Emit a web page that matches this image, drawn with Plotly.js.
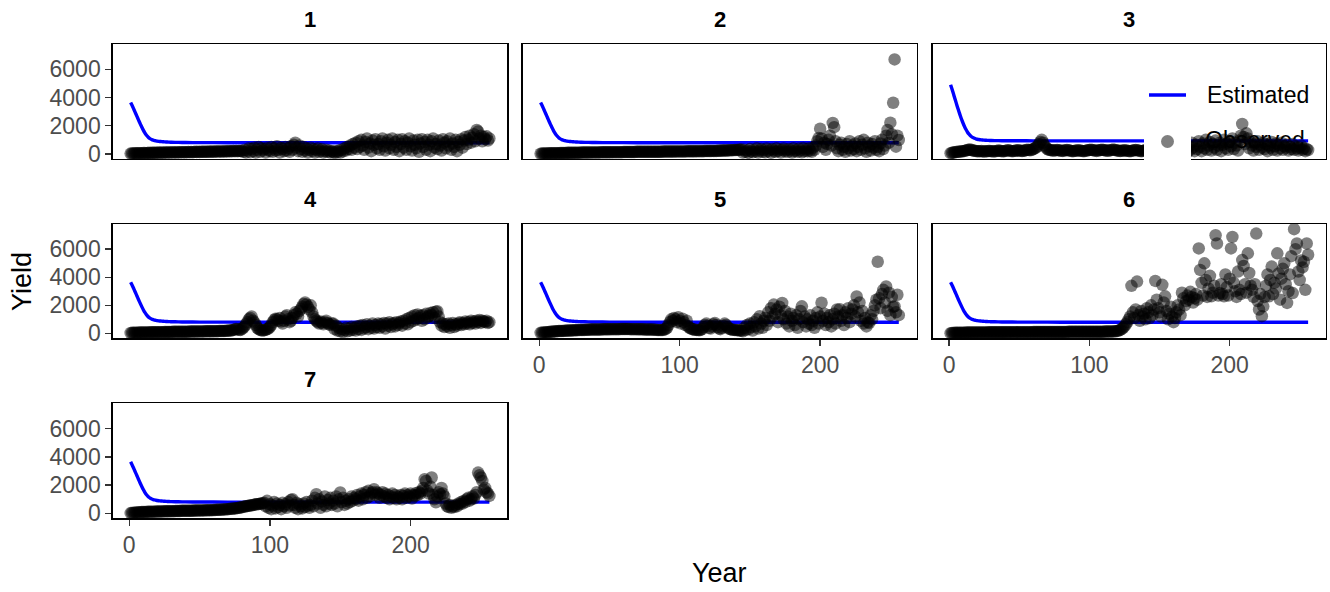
<!DOCTYPE html>
<html>
<head>
<meta charset="utf-8">
<script src="https://cdn.plot.ly/plotly-3.0.1.min.js"></script>
<style>html,body{margin:0;padding:0;background:#fff;}#chart{width:1330px;height:592px;}</style>
</head>
<body>
<div id="chart"></div>
<script>
// ---------------- DATA ----------------
const panelLabels = ["1", "2", "3", "4", "5", "6", "7"];
const seriesNames = ["Estimated", "Observed"];
const xTickVals = [0, 100, 200];
const yTickVals = [0, 2000, 4000, 6000];

// Years of the estimated curve (where it was read)
const estYears = [1,2,3,4,5,6,7,8,9,10,11,12,13,14,15,16,17,18,19,20,21,22,23,24,25,26,27,28,29,30,35,40,50,60,80,100,150,200,256];
// Estimated yield, panels 1,2,4,5,6,7
const estMain = [3650,3450,3230,3000,2780,2550,2320,2100,1890,1690,1510,1360,1240,1140,1070,1020,980,950,930,910,895,885,875,866,858,851,845,840,836,832,820,812,805,802,800,800,800,800,800];
// Estimated yield, panel 3
const estP3 = [4900,4600,4280,3950,3620,3300,2990,2690,2410,2160,1930,1730,1560,1420,1310,1220,1160,1110,1070,1045,1025,1010,998,988,980,973,967,962,958,955,945,940,935,932,930,930,930,930,930];

// Observed yield, years 1..256
const obs1 = [
30,40,40,50,50,50,60,60,60,70,70,60,70,80,70,80,
80,90,80,90,100,90,100,90,100,110,100,110,100,110,120,110,
110,120,110,120,130,120,130,120,130,140,130,140,130,140,150,140,
150,140,150,160,150,160,150,160,170,160,170,160,170,180,170,180,
180,170,180,190,180,190,200,190,200,210,200,210,200,220,210,220,
150,300,100,250,400,120,350,200,450,100,300,500,150,400,250,350,
100,450,300,200,500,150,400,250,550,300,100,450,350,200,500,250,
400,150,550,300,650,800,450,200,600,350,150,500,250,400,100,300,
450,200,350,100,300,400,150,250,350,100,200,300,150,250,100,200,
150,80,200,120,250,100,300,180,400,250,500,350,600,300,700,450,
800,350,900,500,1000,600,300,850,1100,450,750,200,950,650,1050,400,
700,300,900,1100,550,250,800,1000,400,650,1100,300,850,500,1000,200,
700,1050,450,900,300,800,1100,550,250,950,650,400,1000,150,750,1050,
500,850,300,1000,650,200,900,1100,450,700,350,950,600,250,1050,800,
400,900,600,1100,300,750,500,1000,200,850,650,1050,450,950,1200,700,
1000,1300,800,1150,1400,900,1700,1600,1100,1300,900,1200,1050,1250,950,1100];

const obs2 = [
20,30,30,40,40,40,50,50,50,50,60,60,60,60,70,70,
70,70,70,80,80,80,80,80,90,90,90,90,90,100,100,100,
100,100,100,100,110,110,110,110,110,110,110,120,120,120,120,120,
120,120,120,130,130,130,130,130,130,130,130,140,140,140,140,140,
140,140,140,140,150,150,150,150,150,150,150,150,150,150,160,160,
160,160,160,160,160,160,160,170,170,170,170,170,170,170,170,170,
180,180,180,180,180,180,180,180,190,190,190,190,190,190,190,200,
200,200,200,200,200,210,210,210,210,210,220,220,220,220,230,230,
230,240,240,240,250,250,260,260,270,270,280,280,290,300,300,310,
100,300,150,250,80,350,200,120,300,180,400,100,250,350,150,280,
120,380,200,300,90,350,250,150,400,200,320,100,280,380,180,300,
150,350,250,100,400,200,300,150,380,250,120,420,200,330,180,400,
250,150,450,300,600,900,1140,1790,1100,500,800,300,700,1000,1300,600,
2200,1900,900,400,200,650,800,300,500,150,700,400,900,250,600,350,
750,200,500,900,300,650,1000,400,150,800,550,250,700,450,900,300,
500,200,750,1000,350,600,1300,1700,800,2220,1400,3630,6700,520,1300,990];

const obs3 = [
60,80,100,120,140,160,150,170,190,200,220,250,280,300,320,280,
250,230,210,200,190,200,210,180,170,190,200,210,220,200,190,180,
200,220,240,230,210,190,200,220,240,260,240,220,200,210,230,250,
270,250,230,210,230,250,280,300,280,260,300,350,400,450,550,700,
850,1000,800,600,450,350,300,280,260,240,250,270,290,270,250,230,
220,240,260,280,260,240,220,200,210,230,250,270,250,230,210,200,
220,240,260,280,300,280,260,240,220,240,260,280,300,280,260,240,
230,250,270,290,310,290,270,250,230,210,230,250,270,250,230,210,
200,220,240,260,280,260,240,220,200,220,240,260,280,300,280,260,
240,260,280,300,320,300,280,260,280,300,320,340,360,340,320,300,
200,450,150,600,300,500,250,700,400,150,550,300,800,450,200,650,
350,900,500,200,750,400,1000,300,600,850,250,700,450,950,300,600,
800,200,650,1000,400,750,300,900,550,1100,350,800,600,250,950,1300,
2130,1200,700,1460,1100,400,850,600,250,750,500,900,300,650,450,800,
350,700,200,600,450,850,300,550,750,250,650,400,800,300,550,450,
650,250,500,350,700,300,550,400,250,450,600,300,400,200,350,280];

const obs4 = [
30,40,40,50,50,50,60,60,60,60,70,70,70,70,80,80,
80,80,80,90,90,90,90,90,100,100,100,100,100,100,110,110,
110,110,110,110,120,120,120,120,120,120,130,130,130,130,130,130,
140,140,140,140,140,150,150,150,150,150,150,160,160,160,160,170,
170,170,180,180,190,190,200,210,220,250,280,320,300,260,240,300,
400,500,650,800,1000,1100,1200,900,780,600,400,300,250,220,200,230,
260,300,350,450,600,800,950,1050,1000,900,1100,850,700,900,1200,1300,
1000,800,900,1100,1300,1500,1400,1200,1600,1750,1900,2100,2200,2050,1900,1700,
2000,1500,1200,1000,900,800,700,850,750,650,800,900,750,650,600,700,
700,300,550,200,400,150,300,100,250,400,150,350,200,450,250,400,
200,500,300,550,250,600,350,450,650,300,550,400,700,350,600,450,
700,400,650,500,750,350,700,550,800,450,650,750,500,800,600,750,
850,550,900,700,1000,650,1100,800,1200,900,1300,1000,1350,1100,1250,900,
1300,1000,1400,1150,1250,1450,1300,1500,1100,1550,1580,1200,800,550,700,450,
650,500,700,400,600,750,450,650,550,700,800,600,750,650,850,700,
800,650,900,750,850,700,900,800,950,750,900,850,800,900,750,800];

const obs5 = [
40,50,60,70,80,90,100,110,120,130,140,150,160,170,170,180,
180,190,190,200,200,210,210,220,220,230,230,240,240,250,250,250,
260,260,260,270,270,270,270,280,280,280,280,280,290,290,290,290,
290,290,300,300,300,300,300,300,300,310,310,310,310,310,310,310,
300,300,300,300,300,290,290,290,290,290,280,280,280,280,270,270,
270,260,260,250,250,240,240,250,270,300,400,600,800,1000,900,1100,
1000,800,1150,900,700,1050,800,600,900,500,400,350,300,280,260,250,
240,230,250,300,450,600,700,550,400,350,500,650,750,600,450,350,
300,400,550,700,600,450,350,300,280,260,250,240,230,220,210,200,
150,400,250,600,300,700,450,200,800,500,1000,350,1220,700,400,900,
1100,600,1500,900,1800,1200,2050,1400,1700,800,1900,1300,2170,1000,1600,700,
1200,500,1400,900,1100,600,1300,400,1000,1600,1930,800,1200,500,1000,700,
1300,600,900,400,1100,1500,700,1200,2180,900,1400,600,1100,800,1300,500,
1000,1400,700,1700,1200,1720,900,1300,600,1500,1100,1800,800,1400,1700,2000,
1200,2630,1500,2200,900,1600,700,1100,500,800,750,1300,1000,1600,2000,2400,
5100,2500,1800,2800,3100,2200,3340,1600,2900,1300,2600,1900,1930,1500,2750,1300];

const obs6 = [
20,30,30,40,40,40,50,50,50,50,50,60,60,60,60,60,
60,60,70,70,70,70,70,70,70,70,70,80,80,80,80,80,
80,80,80,80,80,80,80,80,80,80,90,90,90,90,90,90,
90,90,90,90,90,90,90,90,90,90,90,100,100,100,100,100,
100,100,100,100,100,100,100,100,100,100,100,100,100,100,100,100,
100,100,100,100,110,110,110,110,110,110,110,110,110,110,110,110,
110,110,110,120,120,120,120,120,120,120,120,120,120,120,130,130,
130,130,130,140,140,150,160,180,200,250,300,400,500,650,800,1000,
1200,3390,1500,1100,1700,3690,1300,900,1600,1200,1400,1000,1800,1500,1100,2000,
1300,1700,3740,2400,1800,1500,1200,3460,2200,2640,1600,1000,1400,1900,1200,800,
1100,1500,2000,1700,1300,2900,2500,2000,2300,2700,2400,2960,2600,2200,2500,2800,
2400,6050,4520,3600,2700,4990,3800,2600,3200,4100,2640,2900,3400,6990,6400,2700,
2870,3500,2800,2640,4200,3300,2700,3900,6050,6870,3600,3000,2600,4400,3100,2800,
5220,4800,3500,2900,5700,4300,3400,3100,2600,3500,7110,2300,1700,2800,1230,1930,
2600,3400,4200,2640,3800,4760,2800,3600,3200,5700,4270,2400,3900,4600,5000,3500,
2170,3000,4200,5500,2870,7420,6000,6400,4400,3800,5200,4700,5100,3100,6400,5600];

const obs7 = [
20,30,40,50,60,70,80,80,90,90,100,100,110,110,110,120,
120,120,130,130,130,140,140,140,150,150,150,150,160,160,160,160,
170,170,170,170,180,180,180,180,180,190,190,190,190,200,200,200,
200,210,210,210,210,220,220,220,230,230,230,240,240,250,250,260,
260,270,280,280,290,300,310,320,330,340,350,360,380,400,420,440,
460,480,500,520,540,560,580,600,620,640,650,660,680,700,720,750,
500,890,400,650,300,550,800,350,700,450,600,300,750,500,650,400,
800,550,950,1010,600,400,750,300,650,500,350,700,450,800,550,400,
600,900,500,1100,1360,700,1000,400,850,600,1200,500,950,700,1100,600,
900,700,1200,500,1000,1480,800,1100,600,900,700,1000,800,1200,900,1100,
1000,1300,900,1200,1400,1000,1300,1500,1100,1600,1200,1400,1500,1710,1300,1500,
1400,1100,1300,1500,1200,1400,1100,1300,1000,1200,1400,1100,1300,1000,1200,1100,
1300,1000,1250,1400,1100,1300,1200,1400,1050,1300,1250,1450,1300,1500,1400,1600,
1800,2420,2300,1600,1400,1900,2540,1300,1000,780,1200,1500,1360,1800,1400,1200,
700,500,450,600,400,500,450,600,500,700,650,800,700,900,800,1000,
1100,900,1000,1200,1050,1300,1500,2890,2700,2540,2300,1700,1800,1500,1400,1240];

const observed = [obs1, obs2, obs3, obs4, obs5, obs6, obs7];
const estimated = [estMain, estMain, estP3, estMain, estMain, estMain, estMain];

// ---------------- LAYOUT GEOMETRY (pixels) ----------------
const W = 1330, H = 592;
const colPx = [[112.7, 507.3], [522.7, 916.7], [932.7, 1326]];
const rowPx = [[44, 159], [224, 338.4], [403.4, 518.4]];
const stripY = [19, 199, 379];
const xRange = [-11.75, 268.75];
const yRange = [-355, 7790];
const FONT = "Liberation Sans, Arial, Helvetica, sans-serif";
const tickFont = {family: FONT, size: 23, color: "#4D4D4D"};

const px = v => v / W;
const py = v => 1 - v / H;

const traces = [];
const layout = {
  width: W, height: H,
  margin: {l: 0, r: 0, t: 0, b: 0, pad: 0},
  paper_bgcolor: "#ffffff",
  plot_bgcolor: "rgba(0,0,0,0)",
  showlegend: false,
  font: {family: FONT},
  annotations: [],
  shapes: []
};

// "Observed" legend text sits beneath the panel-3 data in the reference
traces.push({
  type: "scatter", mode: "text", x: [182.6], y: [850],
  text: [seriesNames[1]], textposition: "middle right",
  textfont: {family: FONT, size: 23, color: "#000000"},
  xaxis: "x3", yaxis: "y3", hoverinfo: "skip", cliponaxis: false
});

const years = Array.from({length: 256}, (_, i) => i + 1);

for (let i = 0; i < 7; i++) {
  const row = Math.floor(i / 3), col = i % 3;
  const s = i === 0 ? "" : String(i + 1);
  const showX = (i >= 4);           // panels 5,6,7
  const showY = (col === 0);        // panels 1,4,7
  traces.push({
    type: "scatter", mode: "lines", x: estYears, y: estimated[i],
    line: {color: "#0000FF", width: 3.4, shape: "spline", smoothing: 0.6},
    xaxis: "x" + s, yaxis: "y" + s, name: seriesNames[0], hoverinfo: "skip"
  });
  traces.push({
    type: "scatter", mode: "markers", x: years, y: observed[i],
    marker: {color: "#000000", opacity: 0.5, size: 12.5, line: {width: 0}},
    xaxis: "x" + s, yaxis: "y" + s, name: seriesNames[1], hoverinfo: "skip"
  });
  layout["xaxis" + s] = {
    domain: [px(colPx[col][0]), px(colPx[col][1])],
    anchor: "y" + s, range: xRange, fixedrange: true,
    showgrid: false, zeroline: false,
    showline: true, mirror: true, linecolor: "#000000", linewidth: 1.4,
    ticks: showX ? "outside" : "", ticklen: 6, tickwidth: 1.4, tickcolor: "#333333",
    tickvals: xTickVals, showticklabels: showX, tickfont: tickFont
  };
  layout["yaxis" + s] = {
    domain: [py(rowPx[row][1]), py(rowPx[row][0])],
    anchor: "x" + s, range: yRange, fixedrange: true,
    showgrid: false, zeroline: false,
    showline: true, mirror: true, linecolor: "#000000", linewidth: 1.4,
    ticks: showY ? "outside" : "", ticklen: 6, tickwidth: 1.4, tickcolor: "#333333",
    tickvals: yTickVals, showticklabels: showY, tickfont: tickFont
  };
  layout.annotations.push({
    text: "<b>" + panelLabels[i] + "</b>", xref: "paper", yref: "paper",
    x: px((colPx[col][0] + colPx[col][1]) / 2), y: py(stripY[row]),
    xanchor: "center", yanchor: "middle", showarrow: false,
    font: {family: FONT, size: 22, color: "#000000"}
  });
}

// axis titles
layout.annotations.push({
  text: "Year", xref: "paper", yref: "paper", x: px(719.5), y: py(573),
  xanchor: "center", yanchor: "middle", showarrow: false,
  font: {family: FONT, size: 27, color: "#000000"}
});
layout.annotations.push({
  text: "Yield", xref: "paper", yref: "paper", x: px(22), y: py(281),
  xanchor: "center", yanchor: "middle", showarrow: false, textangle: -90,
  font: {family: FONT, size: 27, color: "#000000"}
});

// legend (drawn over panel 3)
layout.shapes.push({type: "rect", xref: "paper", yref: "paper", layer: "above",
  x0: px(1144), x1: px(1191), y0: py(166), y1: py(119),
  fillcolor: "#ffffff", line: {width: 0}});
layout.shapes.push({type: "line", xref: "paper", yref: "paper", layer: "above",
  x0: px(1149), x1: px(1186), y0: py(95), y1: py(95),
  line: {color: "#0000FF", width: 3.4}});
layout.shapes.push({type: "circle", xref: "paper", yref: "paper", layer: "above",
  x0: px(1161), x1: px(1174), y0: py(148), y1: py(135),
  fillcolor: "rgba(0,0,0,0.5)", line: {width: 0}});
layout.annotations.push({
  text: seriesNames[0], xref: "paper", yref: "paper", x: px(1205), y: py(95.5),
  xanchor: "left", yanchor: "middle", showarrow: false,
  font: {family: FONT, size: 23, color: "#000000"}
});

Plotly.newPlot("chart", traces, layout, {staticPlot: true, displayModeBar: false});
</script>
</body>
</html>
